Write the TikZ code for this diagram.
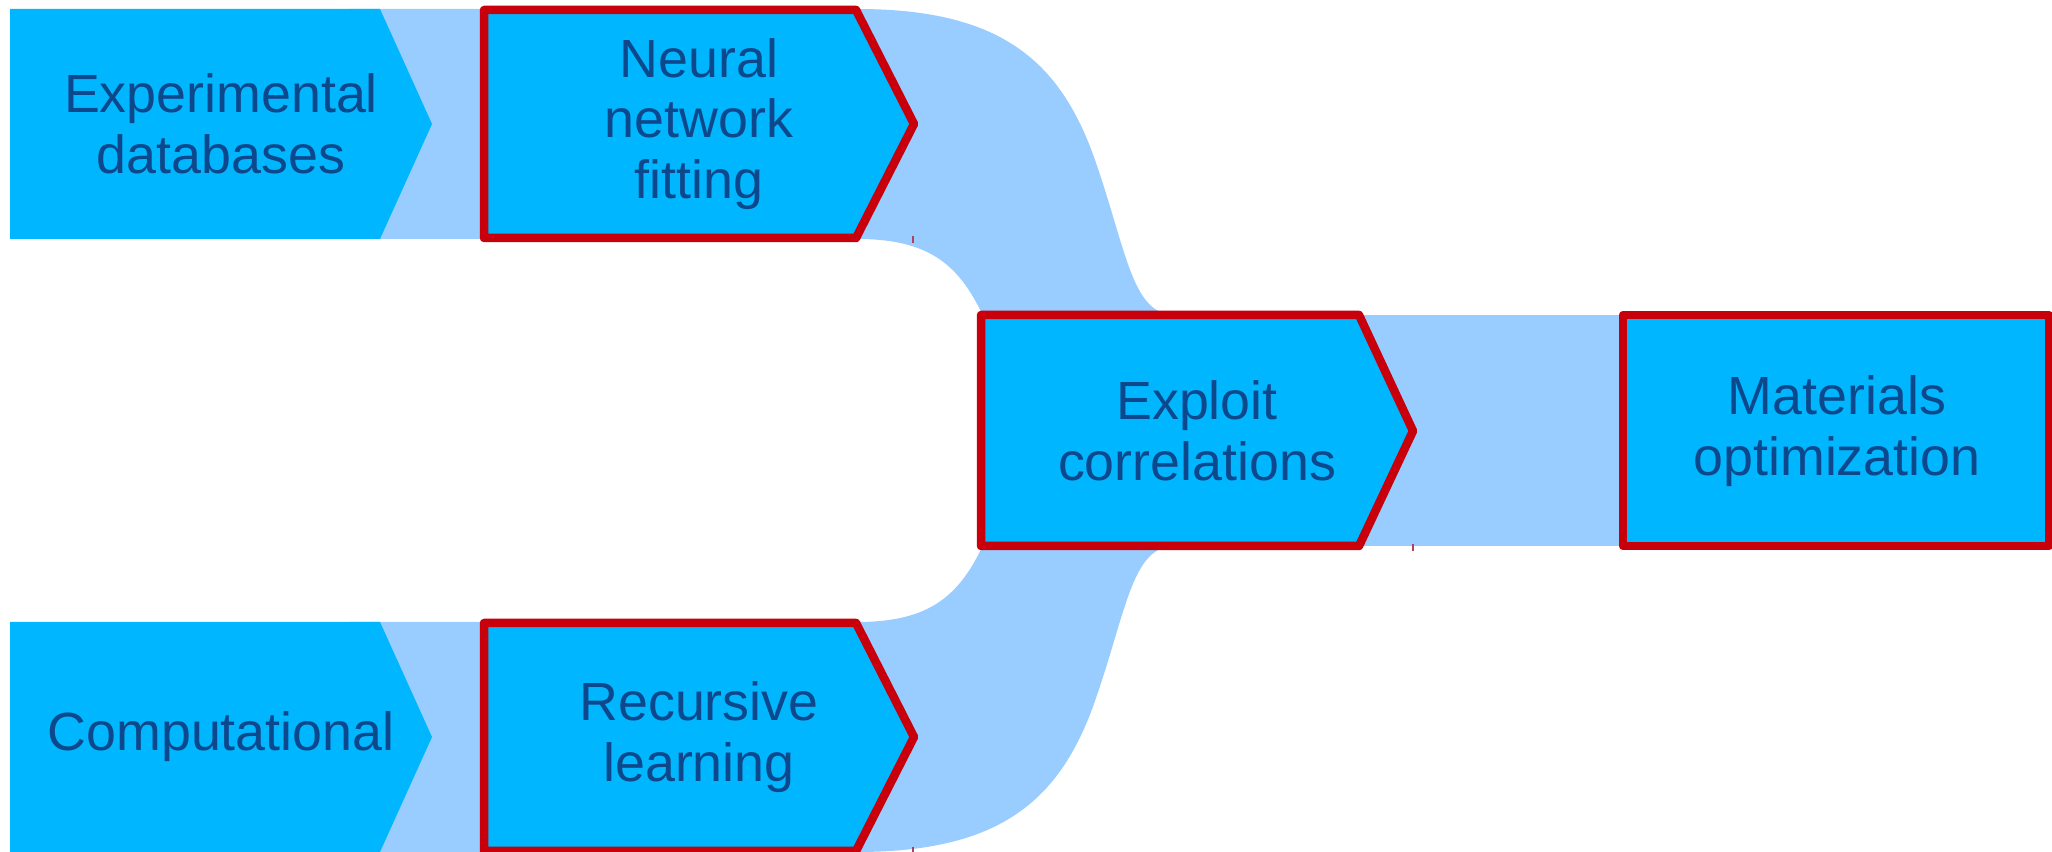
\documentclass[tikz,border=0pt]{standalone}
\usepackage{fontspec}
\setmainfont{Liberation Sans}
\definecolor{boxfill}{RGB}{0,183,255}
\definecolor{bandfill}{RGB}{153,204,255}
\definecolor{edgered}{RGB}{199,0,11}
\definecolor{labelblue}{RGB}{14,72,140}
\definecolor{stubmark}{RGB}{176,64,96}
\begin{document}
\begin{tikzpicture}[
    band/.style={fill=bandfill},
    plainbox/.style={fill=boxfill},
    redbox/.style={fill=boxfill, draw=edgered, line width=0.085cm, line join=round},
    boxtext/.style={text=labelblue, align=center, inner sep=0pt, font=\fontsize{15.3}{17.2}\selectfont},
    stub/.style={draw=stubmark, line width=0.015cm}
  ]
  \useasboundingbox (0,0) rectangle (20.52,8.52);

  % Drawing band top
  \fill [band] (3.50,8.43) -- (8.57,8.43) .. controls (10.00,8.43) and (10.60,7.92) .. (10.95,6.92)
    .. controls (11.27,6.00) and (11.32,5.37) .. (11.75,5.37) -- (11.75,4.20) -- (10.00,4.20)
    -- (9.85,5.32) .. controls (9.60,5.87) and (9.30,6.13) .. (8.57,6.13) -- (3.50,6.13) -- cycle;%

  % Drawing band bottom
  \fill [band] (3.50,0.00) -- (8.57,0.00) .. controls (10.00,0.00) and (10.60,0.51) .. (10.95,1.51)
    .. controls (11.27,2.43) and (11.32,3.06) .. (11.75,3.06) -- (11.75,4.20) -- (10.00,4.20)
    -- (9.85,3.11) .. controls (9.60,2.56) and (9.30,2.30) .. (8.57,2.30) -- (3.50,2.30) -- cycle;%

  % Drawing band middle
  \fill [band] (11.50,5.37) rectangle (16.40,3.06);%

  % Drawing boxes of the first column
  \fill [plainbox] (0.10,8.43) -- (3.80,8.43) -- (4.32,7.28) -- (3.80,6.13) -- (0.10,6.13) -- cycle;%
  \fill [plainbox] (0.10,2.30) -- (3.80,2.30) -- (4.32,1.15) -- (3.80,0.00) -- (0.10,0.00) -- cycle;%

  % Drawing boxes of the second column
  \draw [redbox] (4.84,8.42) -- (8.56,8.42) -- (9.14,7.28) -- (8.56,6.14) -- (4.84,6.14) -- cycle;%
  \draw [redbox] (4.84,2.29) -- (8.56,2.29) -- (9.14,1.15) -- (8.56,0.01) -- (4.84,0.01) -- cycle;%

  % Drawing box exploit
  \draw [redbox] (9.81,5.37) -- (13.59,5.37) -- (14.13,4.21) -- (13.59,3.06) -- (9.81,3.06) -- cycle;%

  % Drawing box materials
  \draw [redbox] (16.23,5.37) -- (20.49,5.37) -- (20.49,3.06) -- (16.23,3.06) -- cycle;%

  % Marking small stubs
  \draw [stub] (9.13,6.16) -- (9.13,6.09);%
  \draw [stub] (9.13,0.05) -- (9.13,0.00);%
  \draw [stub] (14.13,3.08) -- (14.13,3.01);%

  % Writing labels
  \node [boxtext] (experimental) at (2.21,7.28) {Experimental\\databases};%
  \node [boxtext] (computational) at (2.21,1.15) {Computational};%
  \node [boxtext] (neural) at (6.99,7.28) {Neural\\network\\fitting};%
  \node [boxtext] (recursive) at (6.99,1.15) {Recursive\\learning};%
  \node [boxtext] (exploit) at (11.97,4.21) {Exploit\\correlations};%
  \node [boxtext] (materials) at (18.37,4.21) {Materials\\optimization};%
\end{tikzpicture}
\end{document}
